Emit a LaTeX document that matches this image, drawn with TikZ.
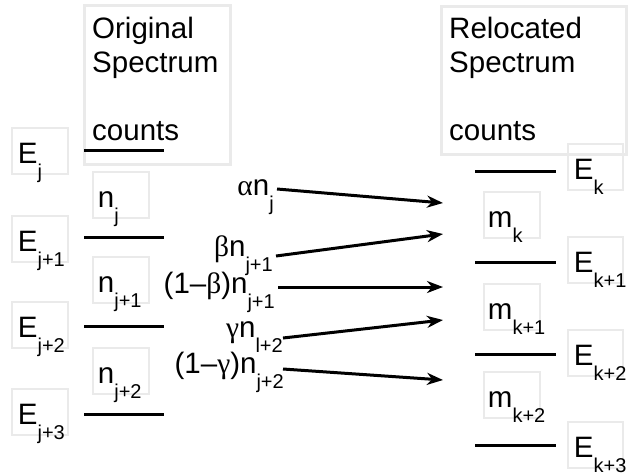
\documentclass[tikz,border=0pt]{standalone}
\usepackage{fontspec}
\setmainfont{Liberation Sans}
\newfontfamily\grk{Liberation Serif}
\usetikzlibrary{arrows.meta}
\definecolor{boxgray}{HTML}{EAEAEA}
\newcommand{\sbs}[1]{\raisebox{-15pt}{\fontsize{20}{20}\selectfont #1}}
\begin{document}
\begin{tikzpicture}[x=1pt,y=-1pt,
  lbox/.style={draw=boxgray, line width=2.5pt, minimum width=56pt, minimum height=46pt, inner sep=0pt},
  tbox/.style={draw=boxgray, line width=2.5pt, inner sep=0pt, anchor=north west},
  lbl/.style={font=\fontsize{29.5}{34}\selectfont, inner sep=0pt, anchor=base west},
  flw/.style={font=\fontsize{29.5}{34}\selectfont, inner sep=0pt, anchor=base east},
  lvl/.style={line width=3pt},
  arr/.style={line width=3pt, -{Stealth[length=16pt,width=12pt,inset=5pt]}},
]
\useasboundingbox (0,0) rectangle (634,475);

% ---- title boxes
\node[tbox, minimum width=146pt, minimum height=159pt] (otb) at (83,4) {};
\node[lbl] (ot1) at (92,38) {Original};
\node[lbl] (ot2) at (92,72) {Spectrum};
\node[lbl] (ot3) at (92,140) {counts};

\node[tbox, minimum width=185pt, minimum height=148pt] (rtb) at (440,5) {};
\node[lbl] (rt1) at (449,38) {Relocated};
\node[lbl] (rt2) at (449,72) {Spectrum};
\node[lbl] (rt3) at (449,140) {counts};

% ---- left levels
\draw[lvl] (84,150) -- (164,150);
\draw[lvl] (84,237) -- (164,237);
\draw[lvl] (84,326) -- (164,326);
\draw[lvl] (84,414) -- (164,414);

% ---- right levels
\draw[lvl] (475,171) -- (556,171);
\draw[lvl] (475,262) -- (556,262);
\draw[lvl] (475,354) -- (556,354);
\draw[lvl] (475,445) -- (556,445);

% ---- left energy labels
\node[lbox] (bE0) at (40,151) {};
\node[lbl] (tE0) at ([shift={(7,12)}]bE0.west) {E\sbs{j}};
\node[lbox] (bE1) at (40,239) {};
\node[lbl] (tE1) at ([shift={(7,12)}]bE1.west) {E\sbs{j+1}};
\node[lbox] (bE2) at (40,325) {};
\node[lbl] (tE2) at ([shift={(7,12)}]bE2.west) {E\sbs{j+2}};
\node[lbox] (bE3) at (40,412) {};
\node[lbl] (tE3) at ([shift={(7,12)}]bE3.west) {E\sbs{j+3}};

% ---- left counts labels
\node[lbox] (bn0) at (121,195) {};
\node[lbl] (tn0) at ([shift={(6,12)}]bn0.west) {n\sbs{j}};
\node[lbox] (bn1) at (121,280) {};
\node[lbl] (tn1) at ([shift={(6,12)}]bn1.west) {n\sbs{j+1}};
\node[lbox] (bn2) at (121,371) {};
\node[lbl] (tn2) at ([shift={(6,12)}]bn2.west) {n\sbs{j+2}};

% ---- right counts labels
\node[lbox] (bm0) at (512,215) {};
\node[lbl] (tm0) at ([shift={(5,12)}]bm0.west) {m\sbs{k}};
\node[lbox] (bm1) at (512,307) {};
\node[lbl] (tm1) at ([shift={(5,12)}]bm1.west) {m\sbs{k+1}};
\node[lbox] (bm2) at (512,395) {};
\node[lbl] (tm2) at ([shift={(5,12)}]bm2.west) {m\sbs{k+2}};

% ---- right energy labels
\node[lbox, minimum width=55pt] (bK0) at (595.5,167) {};
\node[lbl] (tK0) at ([shift={(7,12)}]bK0.west) {E\sbs{k}};
\node[lbox, minimum width=55pt] (bK1) at (595.5,260) {};
\node[lbl] (tK1) at ([shift={(7,12)}]bK1.west) {E\sbs{k+1}};
\node[lbox, minimum width=55pt] (bK2) at (595.5,353) {};
\node[lbl] (tK2) at ([shift={(7,12)}]bK2.west) {E\sbs{k+2}};
\node[lbox, minimum width=55pt] (bK3) at (595.5,445) {};
\node[lbl] (tK3) at ([shift={(7,12)}]bK3.west) {E\sbs{k+3}};

% ---- flow labels
\node[flw] (fa) at (274,195) {{\grk α}n\sbs{j}};
\node[flw] (fb) at (273,256) {{\grk β}n\sbs{j+1}};
\node[flw] (fc) at (275,293) {(1–{\grk β})n\sbs{j+1}};
\node[flw] (fd) at (283,337) {{\grk γ}n\sbs{l+2}};
\node[flw] (fe) at (284,373) {(1–{\grk γ})n\sbs{j+2}};

% ---- arrows
\coordinate (sa) at (277,189); \coordinate (ea) at (443,203);
\coordinate (sb) at (276,256); \coordinate (eb) at (443,234);
\coordinate (sc) at (278,287); \coordinate (ec) at (443,287);
\coordinate (sd) at (283,338); \coordinate (ed) at (443,320);
\coordinate (se) at (283,369); \coordinate (ee) at (443,380);
\draw[arr] (sa) -- (ea);
\draw[arr] (sb) -- (eb);
\draw[arr] (sc) -- (ec);
\draw[arr] (sd) -- (ed);
\draw[arr] (se) -- (ee);
\end{tikzpicture}
\end{document}
